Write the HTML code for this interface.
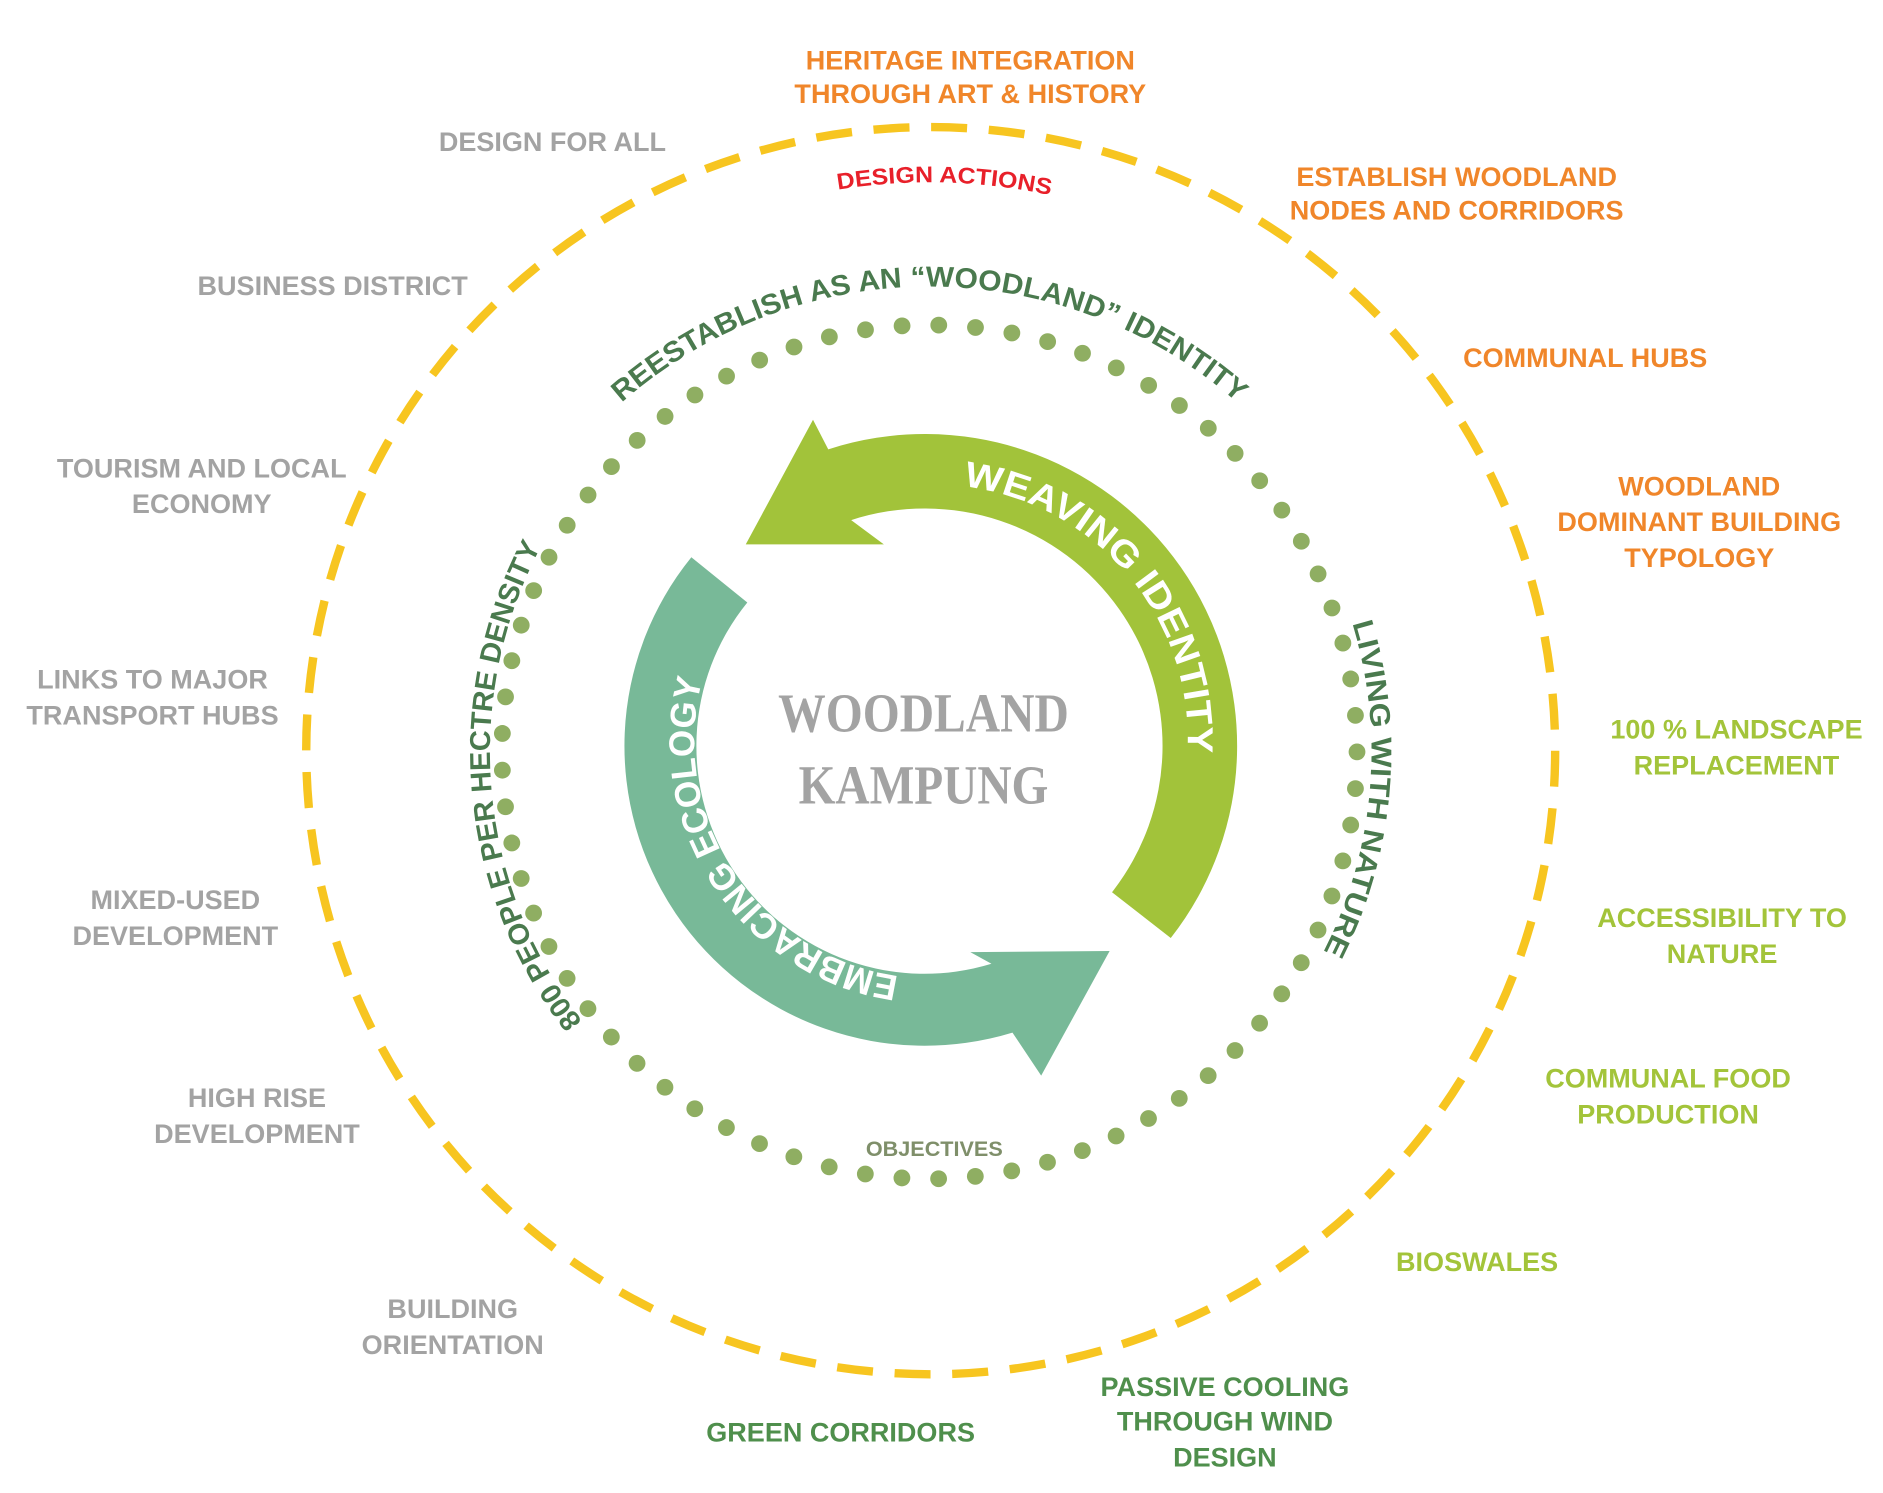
<!DOCTYPE html>
<html><head><meta charset="utf-8"><style>
html,body{margin:0;padding:0;background:#fff;}
svg{display:block;}
.l{font-family:"Liberation Sans",sans-serif;font-weight:bold;font-size:22.5px;text-anchor:middle;}
.g{fill:#a3a3a3}.o{fill:#f0862a}.lg{fill:#a3c43a}.dg{fill:#4f8f4c}
</style></head><body>
<svg width="1883" height="1493" viewBox="0 0 1568 1245" preserveAspectRatio="none" xmlns="http://www.w3.org/2000/svg">
<defs>
<path id="pTop" d="M391.9,559.6 A388,388 0 0 1 1156.1,559.6"/>
<path id="pRight" d="M958,308.3 A368,368 0 0 1 899.9,972.8"/>
<path id="pLeft" d="M648.8,970.9 A366,366 0 0 1 591,310"/>
<path id="pDA" d="M468.7,263.1 A475,475 0 0 1 1097.9,279.6"/>
<path id="pW" d="M696.5,420 A212,212 0 0 1 956.2,729.5"/>
<path id="pE" d="M803.9,814 A198,198 0 0 1 606.5,515.8"/>
</defs>
<circle cx="775" cy="626" r="520" fill="none" stroke="#f7c520" stroke-width="7" stroke-dasharray="30 18.05"/>
<circle cx="774" cy="627" r="356" fill="none" stroke="#8fae62" stroke-width="14" stroke-linecap="round" stroke-dasharray="0 30.64"/>
<path d="M974.9,782.2 A260,260 0 0 0 689.7,374.7 L677,350 L621,454 L736,454 L708.8,433.7 A198,198 0 0 1 926,744 Z" fill="#a2c33a"/>
<path d="M575.7,464.7 A250,250 0 0 0 843.1,861.1 L867,897 L924,793 L808,794 L825.6,803.7 A190,190 0 0 1 622.3,502.4 Z" fill="#78b998"/>
<text font-family="Liberation Sans,sans-serif" font-weight="bold" font-size="30" fill="#fff"><textPath href="#pW" startOffset="50%" text-anchor="middle" textLength="320" lengthAdjust="spacingAndGlyphs">WEAVING IDENTITY</textPath></text>
<text font-family="Liberation Sans,sans-serif" font-weight="bold" font-size="30" fill="#fff"><textPath href="#pE" startOffset="50%" text-anchor="middle" textLength="335" lengthAdjust="spacingAndGlyphs">EMBRACING ECOLOGY</textPath></text>
<text font-family="Liberation Sans,sans-serif" font-size="24" font-weight="bold" fill="#4a7a4e"><textPath href="#pTop" startOffset="50%" text-anchor="middle" textLength="560" lengthAdjust="spacingAndGlyphs">REESTABLISH AS AN “WOODLAND” IDENTITY</textPath></text>
<text font-family="Liberation Sans,sans-serif" font-size="24" font-weight="bold" fill="#4a7a4e"><textPath href="#pRight" startOffset="50%" text-anchor="middle" textLength="282" lengthAdjust="spacingAndGlyphs">LIVING WITH NATURE</textPath></text>
<text font-family="Liberation Sans,sans-serif" font-size="24" font-weight="bold" fill="#4a7a4e"><textPath href="#pLeft" startOffset="50%" text-anchor="middle" textLength="420" lengthAdjust="spacingAndGlyphs">800 PEOPLE PER HECTRE DENSITY</textPath></text>
<text font-family="Liberation Sans,sans-serif" font-size="19" font-weight="bold" fill="#e8202a"><textPath href="#pDA" startOffset="50%" text-anchor="middle" textLength="178" lengthAdjust="spacingAndGlyphs">DESIGN ACTIONS</textPath></text>
<text x="778" y="964" font-family="Liberation Sans,sans-serif" font-size="18" font-weight="bold" fill="#7f8f6a" text-anchor="middle">OBJECTIVES</text>
<text x="769" y="610" font-family="Liberation Serif,serif" font-weight="bold" font-size="46" fill="#a3a3a3" text-anchor="middle" textLength="242" lengthAdjust="spacingAndGlyphs">WOODLAND</text>
<text x="769" y="670" font-family="Liberation Serif,serif" font-weight="bold" font-size="46" fill="#a3a3a3" text-anchor="middle" textLength="208" lengthAdjust="spacingAndGlyphs">KAMPUNG</text>

<text class="l o" x="808" y="58">HERITAGE INTEGRATION</text>
<text class="l o" x="808" y="86">THROUGH ART &amp; HISTORY</text>
<text class="l g" x="460" y="126">DESIGN FOR ALL</text>
<text class="l o" x="1213" y="155">ESTABLISH WOODLAND</text>
<text class="l o" x="1213" y="183">NODES AND CORRIDORS</text>
<text class="l g" x="277" y="246">BUSINESS DISTRICT</text>
<text class="l o" x="1320" y="306">COMMUNAL HUBS</text>
<text class="l g" x="168" y="398">TOURISM AND LOCAL</text>
<text class="l g" x="168" y="428">ECONOMY</text>
<text class="l o" x="1415" y="413">WOODLAND</text>
<text class="l o" x="1415" y="443">DOMINANT BUILDING</text>
<text class="l o" x="1415" y="473">TYPOLOGY</text>
<text class="l g" x="127" y="574">LINKS TO MAJOR</text>
<text class="l g" x="127" y="604">TRANSPORT HUBS</text>
<text class="l lg" x="1446" y="616">100 % LANDSCAPE</text>
<text class="l lg" x="1446" y="646">REPLACEMENT</text>
<text class="l g" x="146" y="758">MIXED-USED</text>
<text class="l g" x="146" y="788">DEVELOPMENT</text>
<text class="l lg" x="1434" y="773">ACCESSIBILITY TO</text>
<text class="l lg" x="1434" y="803">NATURE</text>
<text class="l g" x="214" y="923">HIGH RISE</text>
<text class="l g" x="214" y="953">DEVELOPMENT</text>
<text class="l lg" x="1389" y="907">COMMUNAL FOOD</text>
<text class="l lg" x="1389" y="937">PRODUCTION</text>
<text class="l lg" x="1230" y="1060">BIOSWALES</text>
<text class="l g" x="377" y="1099">BUILDING</text>
<text class="l g" x="377" y="1129">ORIENTATION</text>
<text class="l dg" x="700" y="1202">GREEN CORRIDORS</text>
<text class="l dg" x="1020" y="1164">PASSIVE COOLING</text>
<text class="l dg" x="1020" y="1193">THROUGH WIND</text>
<text class="l dg" x="1020" y="1223">DESIGN</text>
</svg>
</body></html>
